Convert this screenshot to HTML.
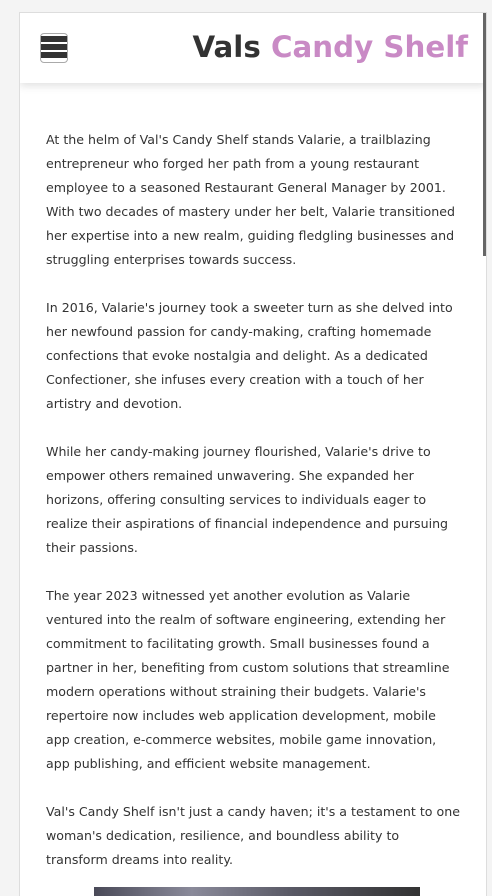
<!DOCTYPE html>
<html><head><meta charset="utf-8"><style>
html,body{margin:0;padding:0;background:#f4f4f4;width:492px;height:896px;overflow:hidden}
.card{position:absolute;left:19px;top:12px;width:468px;height:884px;background:#fff;border:1px solid #ddd;border-bottom:none;box-sizing:border-box;overflow:hidden}
.header{position:absolute;left:0;top:0;width:466px;height:70px;background:#fff;box-shadow:0 3px 8px rgba(0,0,0,.12)}
.menu{position:absolute;left:20px;top:20px;width:28px;height:30px;border:1px solid #aaa;border-radius:4px;box-sizing:border-box;padding:1px 0}
.menu span{display:block;height:6px;background:#333;margin:1px 0 2px}
.title{position:absolute;right:18px;top:17px;font:bold 29.3px "DejaVu Sans","Liberation Sans",sans-serif;color:#333;white-space:nowrap}
.title b{color:#c98ac5}
.content{position:absolute;left:26px;top:115px;font:12.6px "DejaVu Sans","Liberation Sans",sans-serif;color:#333;line-height:24px;white-space:nowrap}
.content p{margin:0 0 24px}
.img{position:absolute;left:74px;top:874px;width:326px;height:40px;background:linear-gradient(90deg,#4a4a58,#8a8a9a 30%,#5a5a66 60%,#333 100%)}
.scroll{position:absolute;left:483px;top:13px;width:3px;height:243px;background:#666}
</style></head><body>
<div class="card">
 <div class="header">
  <div class="menu"><span></span><span></span><span></span></div>
  <div class="title">Vals <b>Candy Shelf</b></div>
 </div>
 <div class="content">
  <p>At the helm of Val's Candy Shelf stands Valarie, a trailblazing<br>entrepreneur who forged her path from a young restaurant<br>employee to a seasoned Restaurant General Manager by 2001.<br>With two decades of mastery under her belt, Valarie transitioned<br>her expertise into a new realm, guiding fledgling businesses and<br>struggling enterprises towards success.</p>
  <p>In 2016, Valarie's journey took a sweeter turn as she delved into<br>her newfound passion for candy-making, crafting homemade<br>confections that evoke nostalgia and delight. As a dedicated<br>Confectioner, she infuses every creation with a touch of her<br>artistry and devotion.</p>
  <p>While her candy-making journey flourished, Valarie's drive to<br>empower others remained unwavering. She expanded her<br>horizons, offering consulting services to individuals eager to<br>realize their aspirations of financial independence and pursuing<br>their passions.</p>
  <p>The year 2023 witnessed yet another evolution as Valarie<br>ventured into the realm of software engineering, extending her<br>commitment to facilitating growth. Small businesses found a<br>partner in her, benefiting from custom solutions that streamline<br>modern operations without straining their budgets. Valarie's<br>repertoire now includes web application development, mobile<br>app creation, e-commerce websites, mobile game innovation,<br>app publishing, and efficient website management.</p>
  <p>Val's Candy Shelf isn't just a candy haven; it's a testament to one<br>woman's dedication, resilience, and boundless ability to<br>transform dreams into reality.</p>
 </div>
 <div class="img"></div>
</div>
<div class="scroll"></div>
</body></html>
